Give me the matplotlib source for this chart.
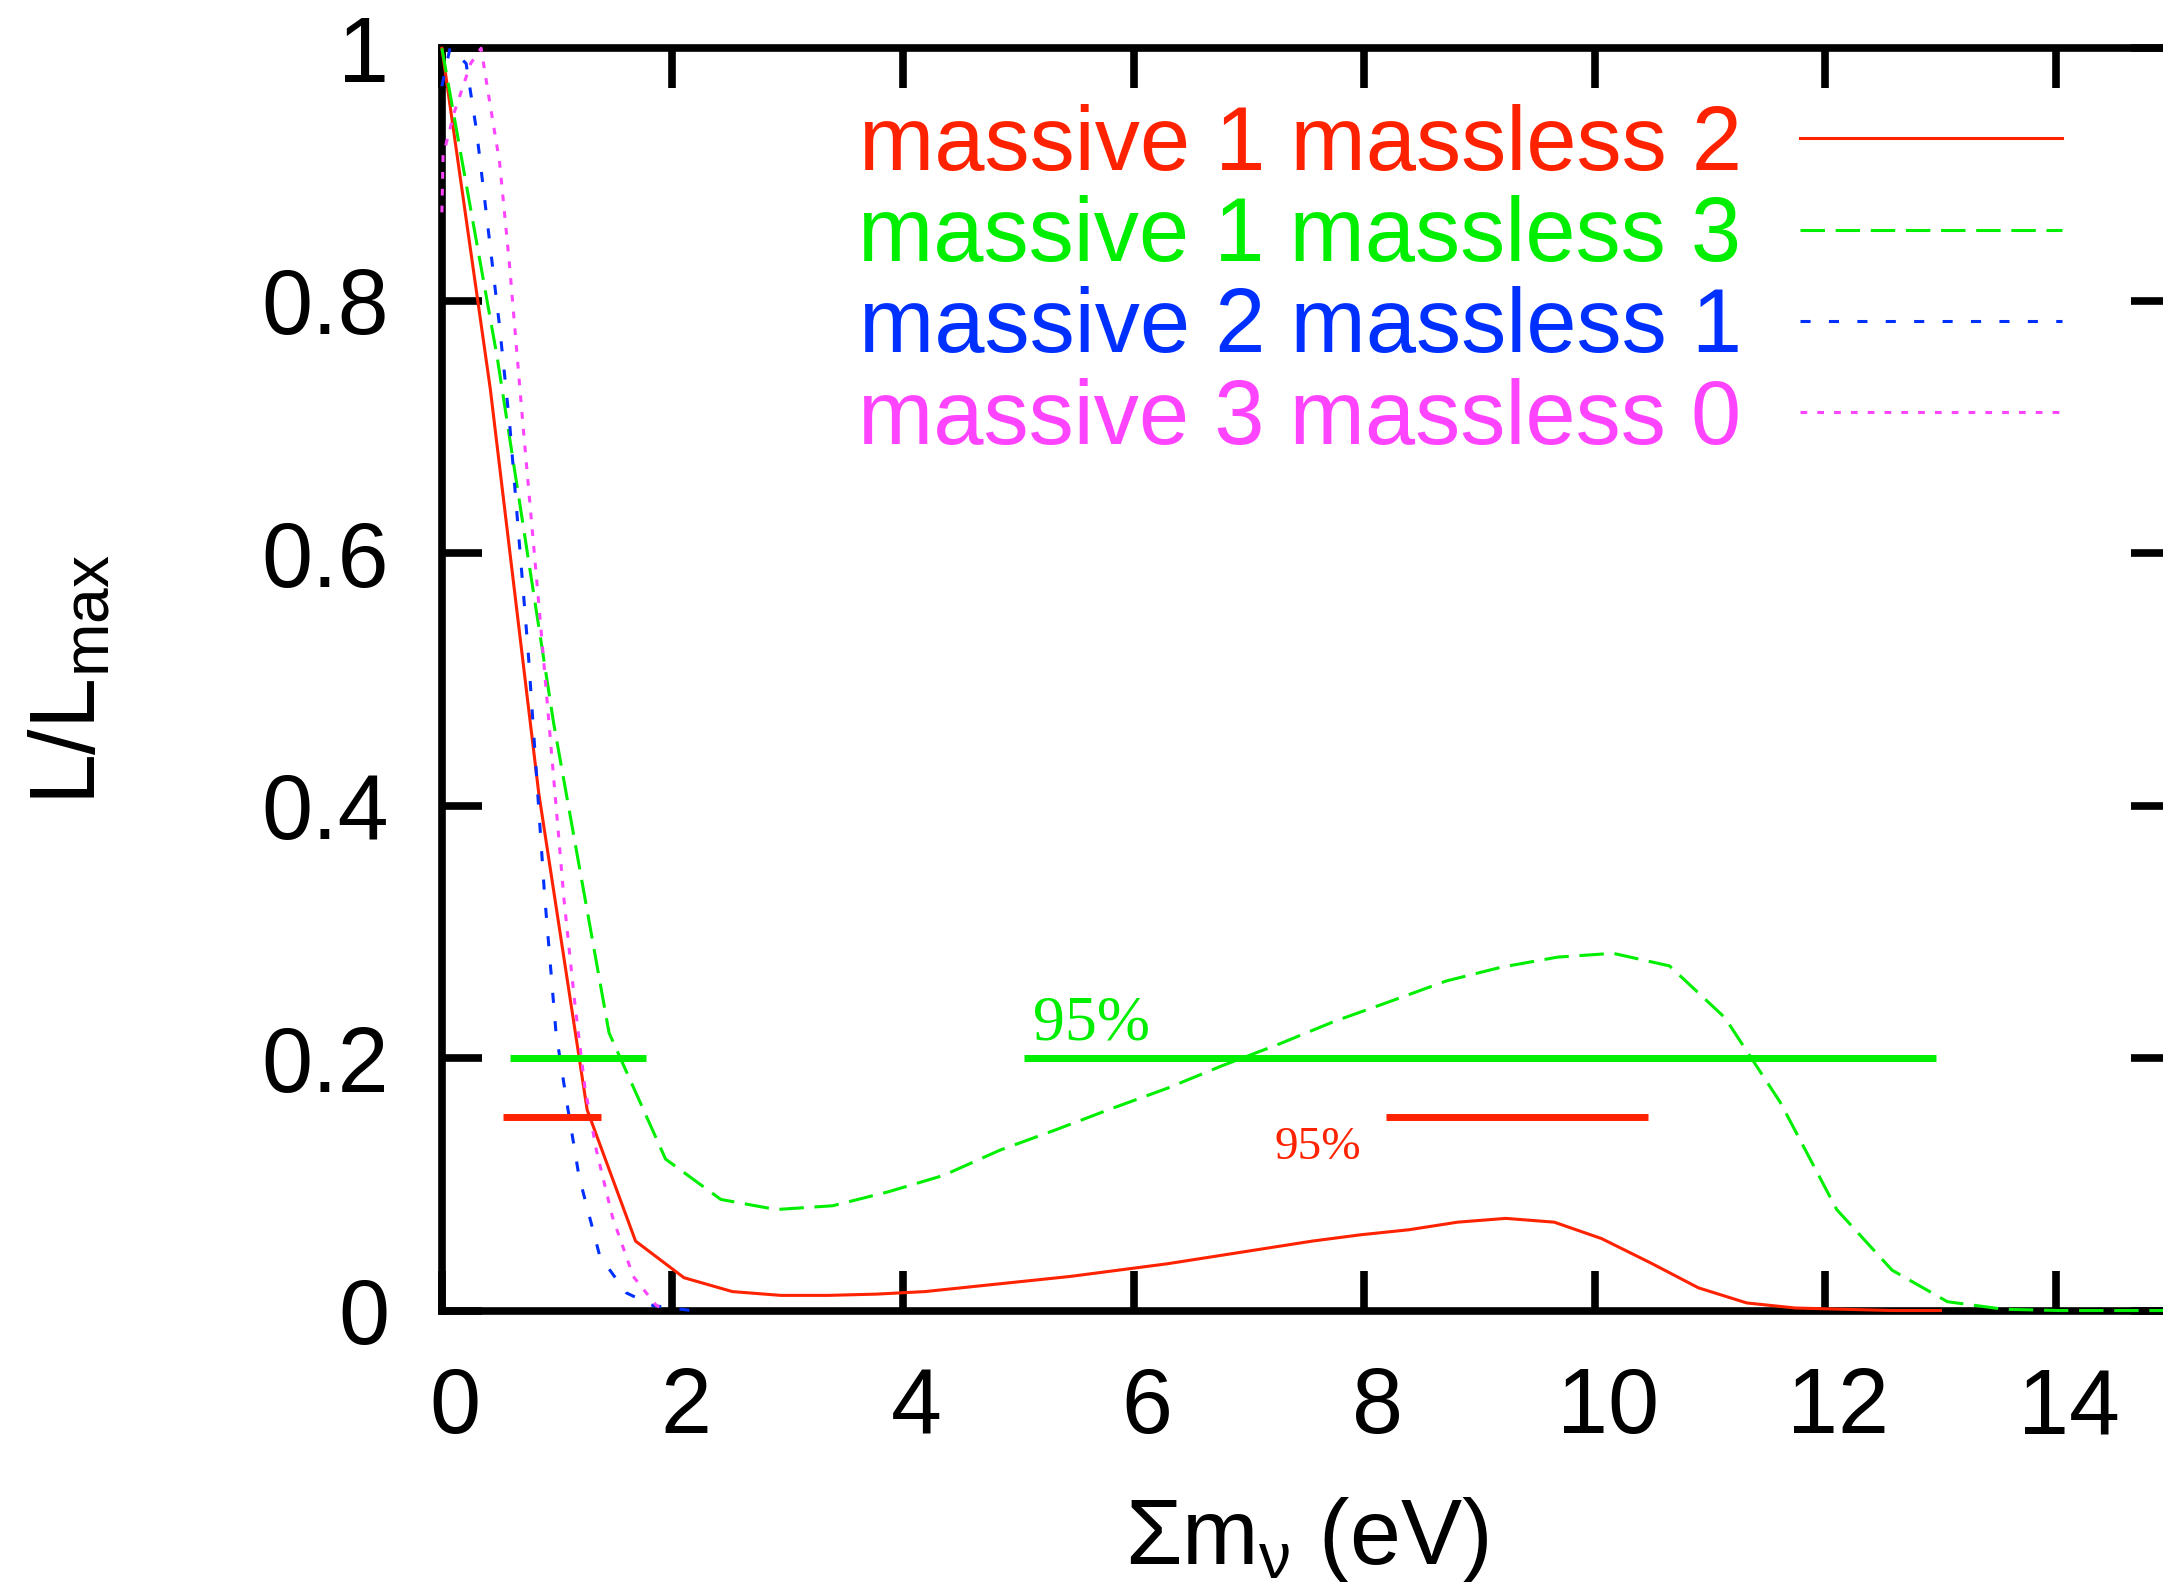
import matplotlib
matplotlib.use("Agg")
import matplotlib.pyplot as plt
from matplotlib.transforms import ScaledTranslation

plt.rcParams['font.family'] = ['Liberation Sans', 'DejaVu Sans']
plt.rcParams['mathtext.fontset'] = 'custom'
plt.rcParams['mathtext.rm'] = 'Liberation Sans'
plt.rcParams['mathtext.it'] = 'Liberation Sans'
plt.rcParams['mathtext.bf'] = 'Liberation Sans:bold'

# likelihood curves, L/Lmax vs sum of neutrino masses (eV)
red_x = [0.0, 0.42, 0.84, 1.26, 1.68, 2.10, 2.52, 2.94, 3.35, 3.77, 4.19, 4.61,
         5.03, 5.45, 5.87, 6.29, 6.71, 7.13, 7.55, 7.97, 8.39, 8.81, 9.23, 9.65,
         10.06, 10.48, 10.90, 11.32, 11.74, 12.16, 12.58, 13.0]
red_y = [1.0, 0.73, 0.41, 0.159, 0.055, 0.026, 0.015, 0.012, 0.012, 0.013, 0.015, 0.019,
         0.023, 0.027, 0.032, 0.037, 0.043, 0.049, 0.055, 0.060, 0.064, 0.070, 0.073, 0.070,
         0.057, 0.038, 0.018, 0.006, 0.002, 0.001, 0.0, 0.0]

green_x = [0.0, 0.48, 0.97, 1.45, 1.94, 2.42, 2.90, 3.39, 3.87, 4.35, 4.84, 5.32,
           5.81, 6.29, 6.77, 7.26, 7.74, 8.23, 8.71, 9.19, 9.68, 10.16, 10.65, 11.13,
           11.61, 12.10, 12.58, 13.06, 13.55, 14.03, 14.52, 15.0]
green_y = [1.0, 0.755, 0.465, 0.22, 0.12, 0.088, 0.080, 0.083, 0.094, 0.107, 0.127, 0.143,
           0.160, 0.176, 0.194, 0.211, 0.229, 0.245, 0.261, 0.272, 0.280, 0.283, 0.273, 0.232,
           0.165, 0.080, 0.032, 0.007, 0.001, 0.0, 0.0, 0.0]

blue_x = [0.0, 0.07, 0.21, 0.30, 0.41, 0.50, 0.59, 0.75, 0.89, 0.99, 1.08, 1.19,
          1.37, 1.60, 1.83, 2.16]
blue_y = [0.97, 1.0, 0.988, 0.935, 0.85, 0.78, 0.70, 0.52, 0.33, 0.22, 0.167, 0.106,
          0.043, 0.014, 0.004, 0.0]

mag_x = [0.0, 0.01, 0.11, 0.25, 0.34, 0.41, 0.50, 0.585, 0.70, 0.85, 1.06, 1.15,
         1.24, 1.34, 1.48, 1.66, 1.86, 1.95]
mag_y = [0.87, 0.915, 0.95, 0.988, 1.0, 0.96, 0.91, 0.83, 0.705, 0.55, 0.325, 0.246,
         0.177, 0.127, 0.074, 0.027, 0.004, 0.0]

labels = ['massive 1 massless 2', 'massive 1 massless 3',
          'massive 2 massless 1', 'massive 3 massless 0']

# 95% intervals
green_ci_lo = [0.59, 5.05]
green_ci_hi = [1.77, 12.96]
green_ci_y = 0.2
red_ci_lo = [0.53, 8.19]
red_ci_hi = [1.38, 10.46]
red_ci_y = 0.153

xticks = [0, 2, 4, 6, 8, 10, 12, 14]
yticks = [0, 0.2, 0.4, 0.6, 0.8, 1]
yticklabels = ['0', '0.2', '0.4', '0.6', '0.8', '1']

RED = '#ff2200'
GREEN = '#00ee00'
BLUE = '#0030ff'
MAGENTA = '#ff44ff'

fig = plt.figure(figsize=(21.63, 15.82), dpi=100)
ax = fig.add_axes([0.2043, 0.1716, 0.7994, 0.7979])

lw = 2.2
l1, = ax.plot(red_x, red_y, color=RED, lw=lw, label=labels[0], zorder=3, clip_on=False)
l2, = ax.plot(green_x, green_y, color=GREEN, lw=lw, dashes=(8, 3.5), label=labels[1],
              zorder=3, clip_on=False)
l3, = ax.plot(blue_x, blue_y, color=BLUE, lw=lw, dashes=(3.3, 6), label=labels[2],
              zorder=3, clip_on=False)
l4, = ax.plot(mag_x, mag_y, color=MAGENTA, lw=lw, dashes=(2.2, 3.3), label=labels[3],
              zorder=3, clip_on=False)

ax.hlines([green_ci_y] * len(green_ci_lo), green_ci_lo, green_ci_hi, color=GREEN,
          lw=5, zorder=4, capstyle='butt')
ax.hlines([red_ci_y] * len(red_ci_lo), red_ci_lo, red_ci_hi, color=RED,
          lw=5, zorder=4, capstyle='butt')
ax.text(5.13, 0.215, '95%', color=GREEN, fontsize=46, family='Liberation Serif',
        va='baseline', ha='left')
ax.text(7.22, 0.12, '95%', color=RED, fontsize=34, family='Liberation Serif',
        va='baseline', ha='left')

ax.set_xlim(0, 15)
ax.set_ylim(0, 1)
ax.set_xticks(xticks)
ax.set_yticks(yticks)
ax.set_yticklabels(yticklabels)
ax.tick_params(which='both', direction='in', top=True, right=True, length=29, width=5.5,
               labelsize=66)
ax.tick_params(axis='x', pad=40)
ax.tick_params(axis='y', pad=38)
for sp in ax.spines.values():
    sp.set_linewidth(5.5)

# gnuplot places x tick labels slightly right of the tick
shift = ScaledTranslation(13 / 100, 0, fig.dpi_scale_trans)
for lab in ax.get_xticklabels():
    lab.set_transform(lab.get_transform() + shift)

ax.set_xlabel('Σm$_{\\nu}$ (eV)', fontsize=66)
ax.xaxis.set_label_coords(0.5, -0.146)
ax.set_ylabel('L/L$_{\\rm max}$', fontsize=66)
ax.yaxis.set_label_coords(-0.189, 0.5)

ax.legend(handles=[l1, l2, l3, l4], loc='upper right', bbox_to_anchor=(0.937, 0.956),
          frameon=False, markerfirst=False, labelcolor='linecolor', handlelength=2.9,
          handletextpad=0.65, labelspacing=0.07, borderpad=0, borderaxespad=0,
          fontsize=65)

fig.savefig('out.png', dpi=100)
